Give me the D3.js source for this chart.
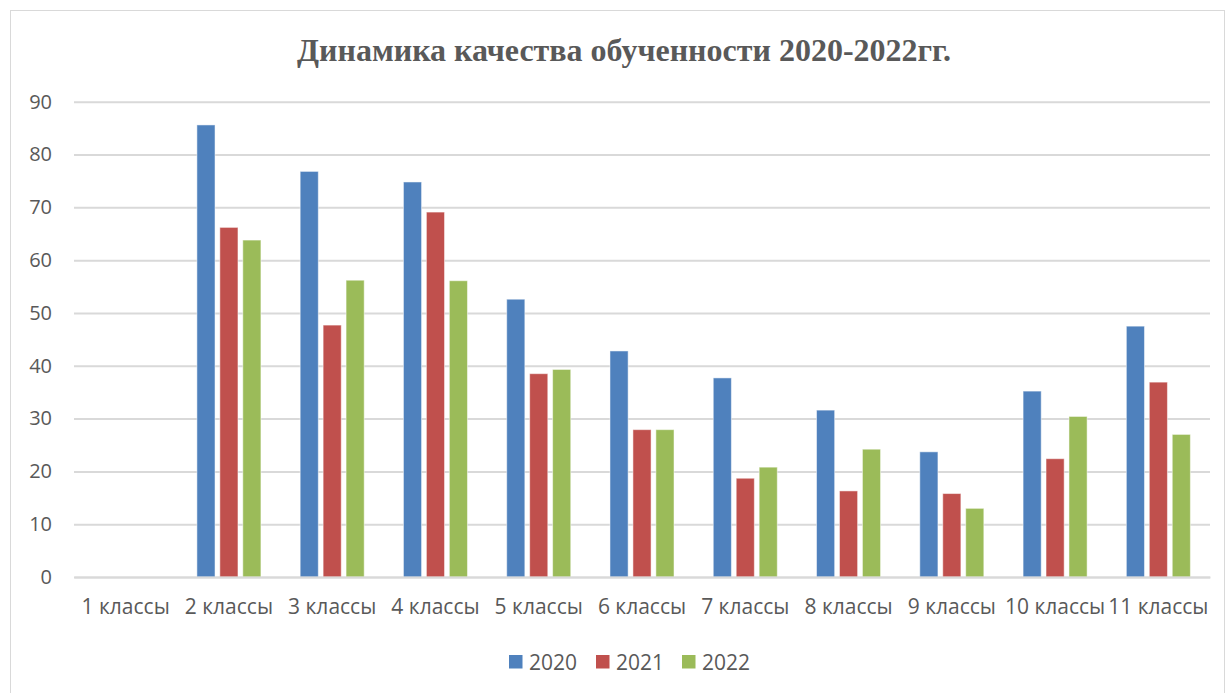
<!DOCTYPE html>
<html><head><meta charset="utf-8">
<script src="https://cdn.jsdelivr.net/npm/d3@7"></script>
<style>body{margin:0;background:#fff;}svg{display:block;}</style>
</head><body>
<svg id="c" width="1227" height="693"></svg>
<script>
const categories = ["1 классы","2 классы","3 классы","4 классы","5 классы","6 классы","7 классы","8 классы","9 классы","10 классы","11 классы"];
const seriesNames = ["2020","2021","2022"];
const values2020 = [null,85.6,76.8,74.8,52.6,42.8,37.7,31.6,23.7,35.2,47.5];
const values2021 = [null,66.2,47.7,69.1,38.5,27.9,18.7,16.3,15.8,22.4,36.9];
const values2022 = [null,63.8,56.2,56.1,39.3,27.9,20.8,24.2,13.0,30.4,27.0];
const yTicks = [0,10,20,30,40,50,60,70,80,90];
const colors = ["#4F81BD","#C0504D","#9BBB59"];
const title = "Динамика качества обученности 2020-2022гг.";

const svg = d3.select("#c");
const m = {left:74, right:1210, top:101.7, bottom:577};

svg.append("rect").attr("x",10.5).attr("y",10.5).attr("width",1214).attr("height",690)
  .attr("fill","#fff").attr("stroke","#d9d9d9").attr("stroke-width",1);

svg.append("text").attr("x",624).attr("y",61).attr("text-anchor","middle")
  .attr("font-family","'Liberation Serif','Times New Roman',serif").attr("font-weight","bold")
  .attr("font-size",32).attr("fill","#595959").text(title);

const x0 = d3.scaleBand().domain(categories).range([m.left,m.right]).paddingInner(0.38).paddingOuter(0.19);
const x1 = d3.scaleBand().domain(seriesNames).range([0,x0.bandwidth()]).paddingInner(0.21);
const y = d3.scaleLinear().domain([0,90]).range([m.bottom,m.top]);

const font = "'Open Sans','Liberation Sans',sans-serif";
const yAxis = d3.axisLeft(y).tickValues(yTicks).tickSize(-(m.right-m.left)).tickPadding(22);
const gy = svg.append("g").attr("transform",`translate(${m.left},0)`).call(yAxis);
gy.select(".domain").remove();
gy.selectAll(".tick line").attr("stroke","#d9d9d9").attr("stroke-width",2);
gy.selectAll(".tick text").attr("font-family",font).attr("font-size",20).attr("fill","#595959");

const data = [values2020, values2021, values2022];
const g = svg.append("g");
seriesNames.forEach((s,si)=>{
  g.selectAll(null).data(categories.map((c,i)=>({c,v:data[si][i]})).filter(d=>d.v!=null))
   .enter().append("rect")
   .attr("x",d=>x0(d.c)+x1(s)).attr("width",x1.bandwidth())
   .attr("y",d=>y(d.v)).attr("height",d=>y(0)-y(d.v))
   .attr("fill",colors[si]).attr("stroke","#fff").attr("stroke-opacity",0.5).attr("stroke-width",1);
});

const xAxis = d3.axisBottom(x0).tickSize(0).tickPadding(22);
const gx = svg.append("g").attr("transform",`translate(0,${m.bottom})`).call(xAxis);
gx.select(".domain").attr("stroke","#d9d9d9").attr("stroke-width",2);
gx.selectAll(".tick text").attr("font-family",font).attr("font-size",21).attr("fill","#595959");

const legendX = [509, 596, 682];
const lg = svg.append("g");
seriesNames.forEach((s,i)=>{
  lg.append("rect").attr("x",legendX[i]).attr("y",655).attr("width",13.5).attr("height",13.5).attr("fill",colors[i]);
  lg.append("text").attr("x",legendX[i]+20).attr("y",669.5).attr("font-family",font).attr("font-size",21)
    .attr("fill","#595959").text(s);
});
</script>
</body></html>
